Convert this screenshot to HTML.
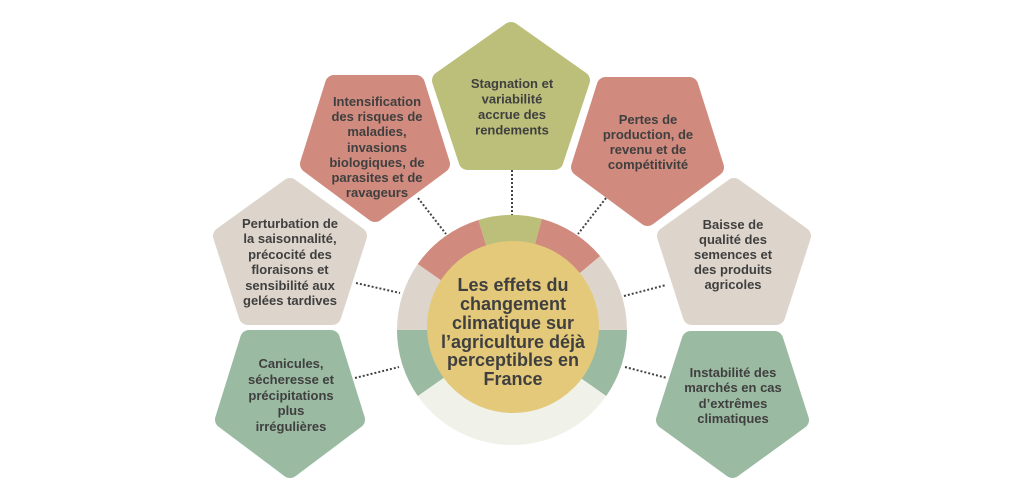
<!DOCTYPE html>
<html><head><meta charset="utf-8"><style>
html,body{margin:0;padding:0;background:#fff;width:1024px;height:500px;overflow:hidden}
svg text{font-family:"Liberation Sans",sans-serif;font-weight:bold;fill:#3f3f3f;text-anchor:middle}
</style></head><body>
<svg width="1024" height="500" viewBox="0 0 1024 500" xmlns="http://www.w3.org/2000/svg">
<g stroke="#444" stroke-width="2" stroke-dasharray="2,2" fill="none">
<line x1="512" y1="170" x2="512" y2="216"/>
<line x1="418" y1="198" x2="446" y2="234"/>
<line x1="606" y1="198" x2="578" y2="234"/>
<line x1="356" y1="283" x2="400" y2="293"/>
<line x1="624" y1="296" x2="666" y2="285"/>
<line x1="355" y1="378" x2="399" y2="367"/>
<line x1="625" y1="367" x2="667" y2="378"/>
</g>
<g stroke-linejoin="round" stroke-width="18">
<polygon fill="#bcbf7a" stroke="#bcbf7a" points="511,31 581,80.4 554.4,161 467.6,161 441,80.4"/>
<polygon fill="#d08b7e" stroke="#d08b7e" points="334.1,84 415.9,84 441,164 375,213 309,164"/>
<polygon fill="#d08b7e" stroke="#d08b7e" points="605.7,86 689.3,86 715,167.2 647.5,217 580,167.2"/>
<polygon fill="#ddd5cc" stroke="#ddd5cc" points="290,187 358,236 332.2,316 247.8,316 222,236"/>
<polygon fill="#ddd5cc" stroke="#ddd5cc" points="734,187 802,236 776.2,316 691.8,316 666,236"/>
<polygon fill="#9bbaa2" stroke="#9bbaa2" points="249.1,339 330.9,339 356,419.6 290,469 224,419.6"/>
<polygon fill="#9bbaa2" stroke="#9bbaa2" points="690.7,340 774.3,340 800,420 732.5,469 665,420"/>
</g>
<g>
<path fill="#bcbf7a" d="M512,330 L478.4,220 A115,115 0 0 1 541.8,218.9 Z"/>
<path fill="#d08b7e" d="M512,330 L541.8,218.9 A115,115 0 0 1 600.1,256.1 Z"/>
<path fill="#ddd5cc" d="M512,330 L600.1,256.1 A115,115 0 0 1 627,330 Z"/>
<path fill="#9bbaa2" d="M512,330 L627,330 A115,115 0 0 1 606.2,396 Z"/>
<path fill="#f0f1e9" d="M512,330 L606.2,396 A115,115 0 0 1 417.8,396 Z"/>
<path fill="#9bbaa2" d="M512,330 L417.8,396 A115,115 0 0 1 397,330 Z"/>
<path fill="#ddd5cc" d="M512,330 L397,330 A115,115 0 0 1 417.8,264 Z"/>
<path fill="#d08b7e" d="M512,330 L417.8,264 A115,115 0 0 1 478.4,220 Z"/>
<circle cx="513" cy="327" r="86" fill="#e3c979"/>
</g>
<g font-size="18">
<text x="513" y="291">Les effets du</text>
<text x="513" y="310">changement</text>
<text x="513" y="329">climatique sur</text>
<text x="513" y="348">l’agriculture déjà</text>
<text x="513" y="366">perceptibles en</text>
<text x="513" y="385">France</text>
</g>
<g font-size="13">
<text x="512" y="88">Stagnation et</text>
<text x="512" y="103.5">variabilité</text>
<text x="512" y="119">accrue des</text>
<text x="512" y="134.5">rendements</text>

<text x="377" y="106">Intensification</text>
<text x="377" y="121">des risques de</text>
<text x="377" y="136">maladies,</text>
<text x="377" y="152">invasions</text>
<text x="377" y="167">biologiques, de</text>
<text x="377" y="182">parasites et de</text>
<text x="377" y="197">ravageurs</text>

<text x="648" y="124">Pertes de</text>
<text x="648" y="139">production, de</text>
<text x="648" y="154">revenu et de</text>
<text x="648" y="169">compétitivité</text>

<text x="290" y="228">Perturbation de</text>
<text x="290" y="243">la saisonnalité,</text>
<text x="290" y="259">précocité des</text>
<text x="290" y="274">floraisons et</text>
<text x="290" y="290">sensibilité aux</text>
<text x="290" y="305">gelées tardives</text>

<text x="733" y="229">Baisse de</text>
<text x="733" y="244">qualité des</text>
<text x="733" y="259">semences et</text>
<text x="733" y="274">des produits</text>
<text x="733" y="289">agricoles</text>

<text x="291" y="368">Canicules,</text>
<text x="291" y="384">sécheresse et</text>
<text x="291" y="400">précipitations</text>
<text x="291" y="415">plus</text>
<text x="291" y="431">irrégulières</text>

<text x="733" y="377">Instabilité des</text>
<text x="733" y="392">marchés en cas</text>
<text x="733" y="408">d’extrêmes</text>
<text x="733" y="423">climatiques</text>
</g>
</svg>
</body></html>
